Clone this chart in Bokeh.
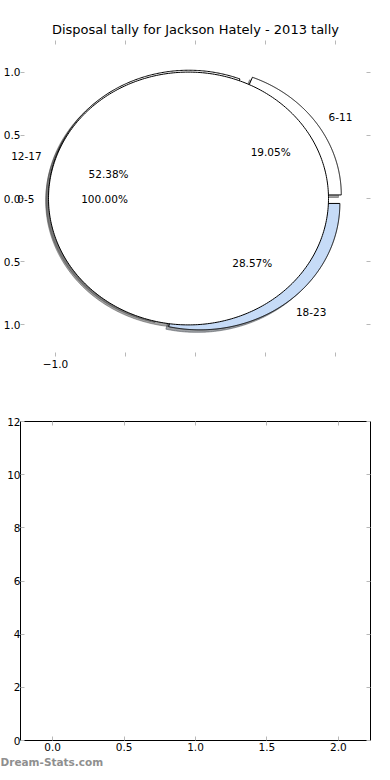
import numpy as np
from bokeh.plotting import figure
from bokeh.layouts import column
from bokeh.models import FixedTicker, LinearAxis, Range1d, Title, ColumnDataSource
from bokeh.core.properties import value
from bokeh.embed import file_html
from bokeh.resources import INLINE

# ---------------- data ----------------
title_text = "Disposal tally for Jackson Hately - 2013 tally"
watermark_text = "Dream-Stats.com"

# pie drawn last (on top): a single 100% slice
top_labels = ["0-5"]
top_values = [21]
top_colors = ["#ffffff"]

# pie drawn first (underneath)
under_labels = ["6-11", "12-17", "18-23"]
under_values = [4, 11, 6]
under_colors = ["#ffffff", "#ffffff", "#c6dbf7"]

explode = 0.05

pie_ticks = [-1.0, -0.5, 0.0, 0.5, 1.0]
pie_y_tick_labels = ["1.0", "0.5", "0.0", "0.5", "1.0"]
pie_x_tick_labels = ["\u22121.0", "", "", "", ""]

bar_x_ticks = [0.0, 0.5, 1.0, 1.5, 2.0]
bar_x_labels = ["0.0", "0.5", "1.0", "1.5", "2.0"]
bar_y_ticks = [0, 2, 4, 6, 8, 10, 12]
bar_y_labels = ["0", "2", "4", "6", "8", "10", "12"]

FONT = "DejaVu Sans"
FS = "10.5px"
TICK_COLOR = "#b8b8b8"


def shade(hex_color, k=0.3):
    h = hex_color.lstrip("#")
    r, g, b = (int(h[i:i + 2], 16) for i in (0, 2, 4))
    return "#%02x%02x%02x" % (int(r * k), int(g * k), int(b * k))


def pie_geometry(values, labels, colors):
    total = float(sum(values))
    fr = np.array(values, dtype=float) / total
    th = np.concatenate([[0.0], np.cumsum(fr) * 360.0])
    out = dict(xs=[], ys=[], sxs=[], sys=[], color=[], scolor=[],
               lx=[], ly=[], ltext=[], lalign=[], px=[], py=[], ptext=[])
    for i, (f, lab, col) in enumerate(zip(fr, labels, colors)):
        t1, t2 = th[i], th[i + 1]
        mid = np.radians((t1 + t2) / 2.0)
        cx, cy = explode * np.cos(mid), explode * np.sin(mid)
        t = np.radians(np.linspace(t1, t2, 360))
        xs = cx + np.cos(t)
        ys = cy + np.sin(t)
        if t2 - t1 < 359.999:
            xs = np.r_[cx, xs, cx]
            ys = np.r_[cy, ys, cy]
        out["xs"].append(list(xs))
        out["ys"].append(list(ys))
        out["sxs"].append(list(xs - 0.02))
        out["sys"].append(list(ys - 0.02))
        out["color"].append(col)
        out["scolor"].append(shade(col))
        xt = cx + 1.1 * np.cos(mid)
        yt = cy + 1.1 * np.sin(mid)
        out["lx"].append(xt)
        out["ly"].append(yt)
        out["ltext"].append(lab)
        out["lalign"].append("left" if xt > 0 else "right")
        out["px"].append(cx + 0.6 * np.cos(mid))
        out["py"].append(cy + 0.6 * np.sin(mid))
        out["ptext"].append("%.2f%%" % (f * 100))
    return out


def style_axis(ax, ticks, labels):
    ax.ticker = FixedTicker(ticks=ticks)
    ax.major_label_overrides = {t: l for t, l in zip(ticks, labels)}
    ax.axis_line_color = None
    ax.major_tick_in = 4
    ax.major_tick_out = 0
    ax.minor_tick_line_color = None
    ax.major_tick_line_color = TICK_COLOR
    ax.major_label_text_font = FONT
    ax.major_label_text_font_size = FS
    ax.major_label_text_color = "black"


# ---------------- top: pie ----------------
top = figure(width=390, height=390, x_range=Range1d(-1.25, 1.25), y_range=Range1d(-1.25, 1.25),
             output_backend="svg", toolbar_location=None,
             min_border_left=20, min_border_right=20, min_border_top=40, min_border_bottom=34)
top.grid.visible = False
top.outline_line_color = None
top.background_fill_color = "white"
top.border_fill_color = "white"

top.title.text = title_text
top.title.align = "center"
top.title.text_font = FONT
top.title.text_font_size = "13px"
top.title.text_font_style = "normal"
top.title.text_color = "black"
top.title.standoff = 8

style_axis(top.xaxis[0], pie_ticks, pie_x_tick_labels)
top.xaxis[0].major_label_standoff = 3
style_axis(top.yaxis[0], pie_ticks, pie_y_tick_labels)
top.yaxis[0].major_label_standoff = 0
ax_r = LinearAxis()
style_axis(ax_r, pie_ticks, [""] * len(pie_ticks))
top.add_layout(ax_r, "right")
ax_t = LinearAxis()
style_axis(ax_t, pie_ticks, [""] * len(pie_ticks))
ax_t.major_label_standoff = 0
top.add_layout(ax_t, "above")

g_under = pie_geometry(under_values, under_labels, under_colors)
g_top = pie_geometry(top_values, top_labels, top_colors)

for g in (g_under, g_top):
    top.patches(xs=g["sxs"], ys=g["sys"], fill_color=g["scolor"], fill_alpha=0.5,
                line_color=g["scolor"], line_alpha=0.5, line_width=1)
for g in (g_under, g_top):
    top.patches(xs=g["xs"], ys=g["ys"], fill_color=g["color"], line_color="black", line_width=1)
for g in (g_under, g_top):
    src = ColumnDataSource(dict(x=g["lx"], y=g["ly"], t=g["ltext"], a=g["lalign"]))
    top.text(x="x", y="y", text="t", text_align="a", source=src, text_baseline="middle",
             text_font=value(FONT), text_font_size=FS, text_color="black", level="overlay")
    src2 = ColumnDataSource(dict(x=g["px"], y=g["py"], t=g["ptext"]))
    top.text(x="x", y="y", text="t", source=src2, text_align="center", text_baseline="middle",
             text_font=value(FONT), text_font_size=FS, text_color="black", level="overlay")

# ---------------- bottom: empty axes ----------------
bot = figure(width=390, height=390, x_range=Range1d(-0.225, 2.225), y_range=Range1d(0, 12),
             output_backend="svg", toolbar_location=None,
             min_border_left=20, min_border_right=20, min_border_top=31, min_border_bottom=40)
bot.grid.visible = False
bot.outline_line_color = "black"
bot.outline_line_width = 1
bot.background_fill_color = "white"
bot.border_fill_color = "white"
style_axis(bot.xaxis[0], bar_x_ticks, bar_x_labels)
bot.xaxis[0].major_label_standoff = 2
style_axis(bot.yaxis[0], bar_y_ticks, bar_y_labels)
bot.yaxis[0].major_label_standoff = 0
b_r = LinearAxis()
style_axis(b_r, bar_y_ticks, [""] * len(bar_y_ticks))
bot.add_layout(b_r, "right")
b_t = LinearAxis()
style_axis(b_t, bar_x_ticks, [""] * len(bar_x_ticks))
b_t.major_label_standoff = 0
bot.add_layout(b_t, "above")

wm = Title(text=watermark_text, align="left", offset=-20, text_font=FONT, text_font_size="10.5px",
           text_font_style="bold", text_color="#8f8f8f", standoff=0)
bot.add_layout(wm, "below")

layout = column(top, bot, spacing=0)
open("out.html", "w").write(file_html(layout, INLINE))
